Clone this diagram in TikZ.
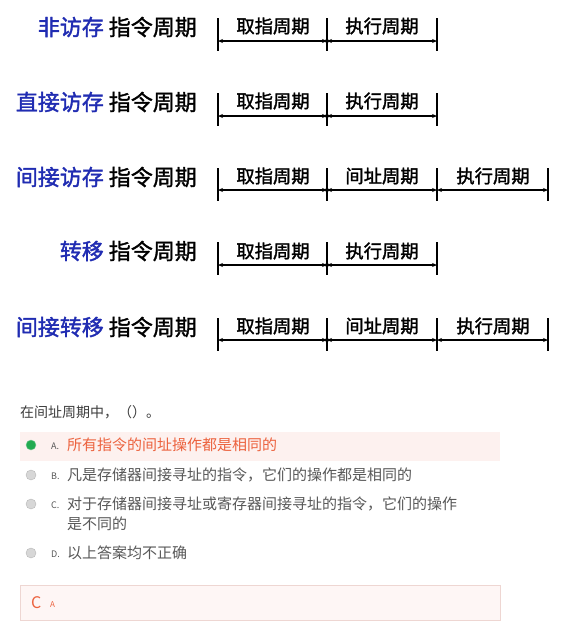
\documentclass[tikz,border=0pt]{standalone}
\usepackage{fontspec}
\setmainfont{Noto Sans CJK SC}
\newfontfamily\cjk{Noto Sans CJK SC}
\newfontfamily\cjkmed[FakeBold=1.6]{Noto Sans CJK SC}
\usetikzlibrary{arrows.meta}
\definecolor{titleblue}{RGB}{32,44,178}
\definecolor{optred}{RGB}{236,98,62}
\definecolor{optgray}{RGB}{88,88,88}
\definecolor{qgray}{RGB}{60,60,60}
\definecolor{hlfill}{RGB}{253,241,239}
\definecolor{ansfill}{RGB}{254,246,245}
\definecolor{ansborder}{RGB}{238,214,210}
\definecolor{okgreen}{RGB}{34,170,80}
\definecolor{radiogray}{RGB}{215,215,215}
\tikzset{
  title/.style={anchor=east,inner sep=0pt,font=\cjkmed\fontsize{22}{24}\selectfont},
  seglabel/.style={inner sep=0pt,font=\cjkmed\fontsize{18.3}{20}\selectfont},
  tick/.style={line width=1.6pt},
  span/.style={line width=1.4pt,{Stealth[length=5pt,width=4pt]}-{Stealth[length=5pt,width=4pt]}},
  joint/.style={circle,fill=black,inner sep=0pt,minimum size=4pt},
  question/.style={anchor=west,inner sep=0pt,text=qgray,font=\cjk\fontsize{14}{16}\selectfont},
  opttext/.style={anchor=west,inner sep=0pt,text=optgray,font=\cjk\fontsize{15}{20}\selectfont},
  optletter/.style={anchor=west,inner sep=0pt,text=optgray,font=\cjk\fontsize{9}{10}\selectfont},
  radio/.style={circle,inner sep=0pt,minimum size=10pt,fill=radiogray,draw=radiogray!85!black},
}
\begin{document}
\begin{tikzpicture}[x=1pt,y=-1pt]
\useasboundingbox (0,0) rectangle (562,633);
\fill[white] (0,0) rectangle (562,633);

% ---------- row 1 ----------
\node[title] (t1) at (197,27) {\textcolor{titleblue}{非访存} 指令周期};
\coordinate (r1a) at (218,41); \coordinate (r1b) at (327,41); \coordinate (r1c) at (437,41);
\draw[tick] (218,18) -- (218,51); \draw[tick] (327,18) -- (327,51); \draw[tick] (437,18) -- (437,51);
\draw[span] (r1a) -- (r1b); \draw[span] (r1b) -- (r1c);
\node[joint] (j1) at (r1b) {};
\node[seglabel] (l1a) at (273,26) {取指周期};
\node[seglabel] (l1b) at (382,26) {执行周期};

% ---------- row 2 ----------
\node[title] (t2) at (197,102) {\textcolor{titleblue}{直接访存} 指令周期};
\coordinate (r2a) at (218,116); \coordinate (r2b) at (327,116); \coordinate (r2c) at (437,116);
\draw[tick] (218,93) -- (218,126); \draw[tick] (327,93) -- (327,126); \draw[tick] (437,93) -- (437,126);
\draw[span] (r2a) -- (r2b); \draw[span] (r2b) -- (r2c);
\node[joint] (j2) at (r2b) {};
\node[seglabel] (l2a) at (273,101) {取指周期};
\node[seglabel] (l2b) at (382,101) {执行周期};

% ---------- row 3 ----------
\node[title] (t3) at (197,177) {\textcolor{titleblue}{间接访存} 指令周期};
\coordinate (r3a) at (218,190); \coordinate (r3b) at (327,190); \coordinate (r3c) at (437,190); \coordinate (r3d) at (548,190);
\draw[tick] (218,168) -- (218,201); \draw[tick] (327,168) -- (327,201); \draw[tick] (437,168) -- (437,201); \draw[tick] (548,168) -- (548,201);
\draw[span] (r3a) -- (r3b); \draw[span] (r3b) -- (r3c); \draw[span] (r3c) -- (r3d);
\node[joint] (j3) at (r3b) {};
\node[seglabel] (l3a) at (273,176) {取指周期};
\node[seglabel] (l3b) at (382,176) {间址周期};
\node[seglabel] (l3c) at (493,176) {执行周期};

% ---------- row 4 ----------
\node[title] (t4) at (197,251) {\textcolor{titleblue}{转移} 指令周期};
\coordinate (r4a) at (218,265); \coordinate (r4b) at (327,265); \coordinate (r4c) at (437,265);
\draw[tick] (218,242) -- (218,275); \draw[tick] (327,242) -- (327,275); \draw[tick] (437,242) -- (437,275);
\draw[span] (r4a) -- (r4b); \draw[span] (r4b) -- (r4c);
\node[joint] (j4) at (r4b) {};
\node[seglabel] (l4a) at (273,251) {取指周期};
\node[seglabel] (l4b) at (382,251) {执行周期};

% ---------- row 5 ----------
\node[title] (t5) at (197,327) {\textcolor{titleblue}{间接转移} 指令周期};
\coordinate (r5a) at (218,340); \coordinate (r5b) at (327,340); \coordinate (r5c) at (437,340); \coordinate (r5d) at (548,340);
\draw[tick] (218,318) -- (218,351); \draw[tick] (327,318) -- (327,351); \draw[tick] (437,318) -- (437,351); \draw[tick] (548,318) -- (548,351);
\draw[span] (r5a) -- (r5b); \draw[span] (r5b) -- (r5c); \draw[span] (r5c) -- (r5d);
\node[joint] (j5) at (r5b) {};
\node[seglabel] (l5a) at (273,326) {取指周期};
\node[seglabel] (l5b) at (382,326) {间址周期};
\node[seglabel] (l5c) at (493,326) {执行周期};

% ---------- question ----------
\node[question] (q) at (20,412) {在间址周期中，（）。};

\fill[hlfill] (20,432) rectangle (500,461);
\node[radio,fill=okgreen,draw=okgreen!60] (ra) at (31,445) {};
\node[optletter] (la) at (51,446) {A.};
\node[opttext,text=optred] (oa) at (67,445) {所有指令的间址操作都是相同的};

\node[radio] (rb) at (31,475) {};
\node[optletter] (lb) at (51,476) {B.};
\node[opttext] (ob) at (67,475) {凡是存储器间接寻址的指令，它们的操作都是相同的};

\node[radio] (rc) at (31,504) {};
\node[optletter] (lc) at (51,505) {C.};
\node[opttext] (oc) at (67,504) {对于存储器间接寻址或寄存器间接寻址的指令，它们的操作};
\node[opttext] (oc2) at (67,524) {是不同的};

\node[radio] (rd) at (31,553) {};
\node[optletter] (ld) at (51,554) {D.};
\node[opttext] (od) at (67,553) {以上答案均不正确};

% ---------- answer box ----------
\node[draw=ansborder,fill=ansfill,line width=0.8pt,minimum width=480pt,minimum height=35pt,inner sep=0pt] (ans) at (260,603) {};
\node[anchor=west,inner sep=0pt,text=optred,font=\cjk\fontsize{16}{18}\selectfont] (ac) at (31,603) {C};
\node[anchor=west,inner sep=0pt,text=optred,font=\cjk\fontsize{8}{9}\selectfont] (aa) at (50,605) {A};
\end{tikzpicture}
\end{document}
